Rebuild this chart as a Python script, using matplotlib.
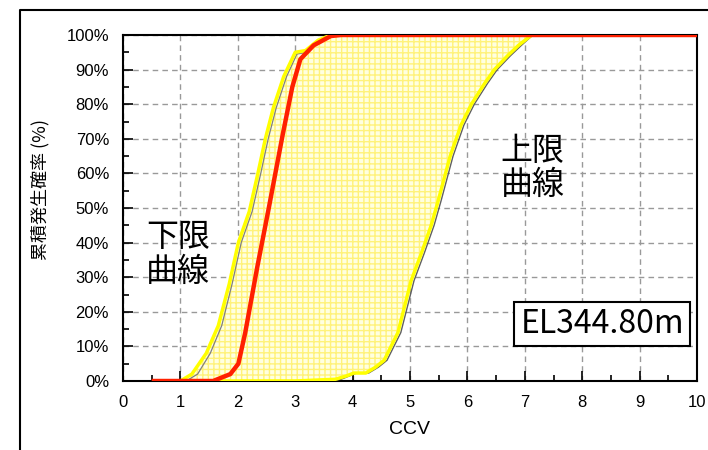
import matplotlib.pyplot as plt
from matplotlib.lines import Line2D
from matplotlib.ticker import MultipleLocator, FuncFormatter

# 累積発生確率の読み取り値
lower_x = [1.0, 1.2, 1.45, 1.66, 1.85, 2.01, 2.2, 2.35, 2.48, 2.62, 2.8, 3.0, 3.18, 3.4, 3.62]
lower_y = [0, 2, 8, 16, 28, 40, 49, 60, 70, 79, 88, 95, 95.5, 98.5, 100]
gray_lower_x = [1.1, 1.3, 1.52, 1.72, 1.9, 2.06, 2.25, 2.4, 2.53, 2.67, 2.85, 3.03, 3.2, 3.42, 3.64]
gray_lower_y = [0, 2, 8, 16, 28, 40, 49, 60, 70, 79, 88, 94.5, 95, 98.5, 100]

upper_x = [1.0, 2.0, 3.0, 3.7, 3.9, 4.02, 4.23, 4.4, 4.55, 4.79, 5.02, 5.2, 5.37, 5.49,
           5.7, 5.89, 6.07, 6.3, 6.47, 6.7, 6.89, 7.12]
upper_y = [0, 0, 0, 0.5, 1.5, 2.3, 2.3, 4, 6, 14, 29, 37, 45, 52, 65, 74, 80, 86, 90, 94, 97, 100]
gray_upper_x = [3.6, 3.8, 3.95, 4.07, 4.28, 4.45, 4.6, 4.84, 5.07, 5.25, 5.42, 5.54,
                5.75, 5.94, 6.12, 6.35, 6.52, 6.75, 6.94, 7.14]
gray_upper_y = [0, 0.5, 1.5, 2.3, 2.3, 4, 6, 14, 29, 37, 45, 52, 65, 74, 80, 86, 90, 94, 97, 100]

red_x = [0.5, 1.57, 1.87, 2.01, 2.13, 2.34, 2.54, 2.78, 2.95, 3.09, 3.32, 3.62, 3.8, 10]
red_y = [0, 0, 2, 5, 14, 33, 50, 71, 85, 93, 97, 99.7, 100, 100]

plt.rcParams['font.family'] = ['Liberation Sans', 'Noto Sans CJK JP', 'DejaVu Sans']
jp = ['Noto Sans CJK JP', 'DejaVu Sans']

fig = plt.figure(figsize=(7.08, 4.5), dpi=100)
ax = fig.add_axes([123/708, 1 - 381/450, 574/708, 346/450])

# 塗りつぶし範囲 (下限〜上限)
poly_x = lower_x + upper_x[::-1]
poly_y = lower_y + upper_y[::-1]
ax.fill(poly_x, poly_y, facecolor='#ffffe0', edgecolor='#fff27a', hatch='+++', linewidth=0, zorder=2)

ax.plot(gray_lower_x, gray_lower_y, color='#808080', lw=0.9, zorder=3)
ax.plot(gray_upper_x, gray_upper_y, color='#606060', lw=1.0, zorder=3)
ax.plot(lower_x, lower_y, color='#ffff00', lw=2.5, zorder=4)
ax.plot(upper_x, upper_y, color='#ffff00', lw=2.5, zorder=4)
ax.plot(red_x, red_y, color='#ff2000', lw=3.2, zorder=5, solid_capstyle='butt')

ax.set_xlim(0, 10)
ax.set_ylim(0, 100)
ax.xaxis.set_major_locator(MultipleLocator(1))
ax.xaxis.set_minor_locator(MultipleLocator(0.5))
ax.yaxis.set_major_locator(MultipleLocator(10))
ax.yaxis.set_minor_locator(MultipleLocator(5))
ax.yaxis.set_major_formatter(FuncFormatter(lambda v, p: f'{v:.0f}%'))
ax.tick_params(which='major', direction='in', length=7, width=1.2, labelsize=12, pad=10)
ax.tick_params(which='minor', direction='in', length=4, width=1.2)
ax.grid(True, which='major', color='#999999', linestyle=(0, (4, 3)), linewidth=1.0, zorder=1)
ax.set_axisbelow(True)
for s in ax.spines.values():
    s.set_linewidth(1.5)

ax.set_xlabel('CCV', fontsize=14, labelpad=8)
fig.text(40/708, 1 - 190/450, '累積発生確率 (%)', rotation=90, fontsize=13,
         family=jp, ha='center', va='center')

ax.text(0.96, 36.5, '下限\n曲線', family=jp, fontsize=23, ha='center', va='center',
        linespacing=1.1, zorder=6)
ax.text(7.14, 61.6, '上限\n曲線', family=jp, fontsize=23, ha='center', va='center',
        linespacing=1.1, zorder=6)
ax.text(8.35, 16.5, 'EL344.80m', family=jp, fontsize=23, ha='center', va='center', zorder=6,
        bbox=dict(boxstyle='square,pad=0.2', facecolor='white', edgecolor='black', linewidth=1.5))

# 外枠
fig.add_artist(Line2D([20/708, 20/708, 1.0], [0.0, 1 - 10/450, 1 - 10/450],
                      transform=fig.transFigure, color='black', lw=1.5))

fig.savefig('out.png', dpi=100)
